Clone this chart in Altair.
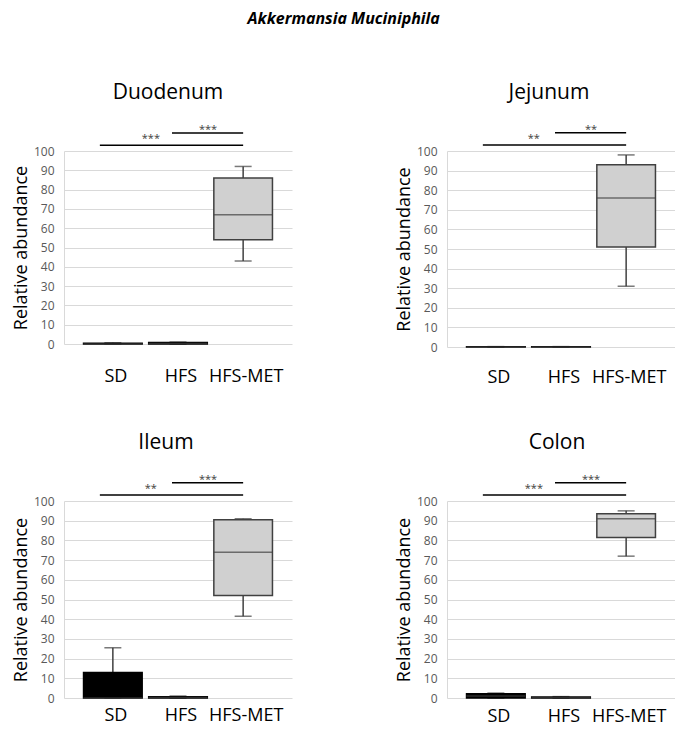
import altair as alt
import pandas as pd

categories = ["SD", "HFS", "HFS-MET"]
regions = ["Duodenum", "Jejunum", "Ileum", "Colon"]

# box statistics per region, in the order of `categories`
whisker_low = {
    "Duodenum": [0.0, 0.0, 43.0],
    "Jejunum": [0.0, 0.0, 31.0],
    "Ileum": [0.0, 0.0, 41.5],
    "Colon": [0.0, 0.0, 72.0],
}
quartile_1 = {
    "Duodenum": [0.0, 0.0, 54.0],
    "Jejunum": [0.0, 0.0, 51.0],
    "Ileum": [0.0, 0.0, 52.0],
    "Colon": [0.0, 0.0, 81.5],
}
median = {
    "Duodenum": [0.0, 0.3, 67.0],
    "Jejunum": [0.0, 0.0, 76.0],
    "Ileum": [0.0, 0.2, 74.0],
    "Colon": [1.0, 0.2, 91.0],
}
quartile_3 = {
    "Duodenum": [0.4, 0.8, 86.0],
    "Jejunum": [0.15, 0.15, 93.0],
    "Ileum": [13.0, 0.6, 90.5],
    "Colon": [2.2, 0.5, 93.5],
}
whisker_high = {
    "Duodenum": [0.6, 1.0, 92.0],
    "Jejunum": [0.2, 0.2, 98.0],
    "Ileum": [25.5, 1.0, 91.0],
    "Colon": [2.5, 0.7, 95.0],
}
# significance labels: SD vs HFS-MET (long bar), HFS vs HFS-MET (short bar)
stars_long = {"Duodenum": "***", "Jejunum": "**", "Ileum": "**", "Colon": "***"}
stars_short = {"Duodenum": "***", "Jejunum": "**", "Ileum": "***", "Colon": "***"}

FONT = "Open Sans"
STROKE = "#404040"
GRID = "#d9d9d9"
LONG_Y = 103
SHORT_Y = 109.3


def panel(region, height, label_pad, title_dx):
    df = pd.DataFrame({
        "category": categories,
        "low": whisker_low[region],
        "q1": quartile_1[region],
        "med": median[region],
        "q3": quartile_3[region],
        "high": whisker_high[region],
    })
    sig = pd.DataFrame({
        "a": ["SD", "HFS"],
        "b": ["HFS-MET", "HFS-MET"],
        "y": [LONG_Y, SHORT_Y],
        "t": [stars_long[region], stars_short[region]],
        "kind": ["long", "short"],
    })
    xscale = alt.Scale(domain=categories, paddingInner=0.1, paddingOuter=0.3)
    xaxis = alt.Axis(title=None, labelAngle=0, labelFontSize=18, labelFont=FONT,
                     labelColor="#000000", labelPadding=label_pad, labelOffset=3,
                     domain=False, ticks=False, grid=False)
    yscale = alt.Scale(domain=[0, 100], nice=False)
    yaxis = alt.Axis(title="Relative abundance", values=list(range(0, 101, 10)),
                     titleFontSize=18, titleFont=FONT, titleFontWeight="normal",
                     titleColor="#000000", titlePadding=3,
                     labelFontSize=12, labelFont=FONT, labelColor="#595959",
                     labelPadding=10, ticks=False, domain=True, domainColor=GRID,
                     grid=True, gridColor=GRID, gridWidth=1)

    def X(field):
        return alt.X(f"{field}:N", scale=xscale, axis=xaxis, sort=categories)

    def Y(field):
        return alt.Y(f"{field}:Q", scale=yscale, axis=yaxis)

    base = alt.Chart(df)
    w_lo = base.mark_rule(color=STROKE, strokeWidth=1.5).encode(x=X("category"), y=Y("low"), y2="q1:Q")
    w_hi = base.mark_rule(color=STROKE, strokeWidth=1.5).encode(x=X("category"), y=Y("q3"), y2="high:Q")
    c_lo = base.mark_tick(color=STROKE, size=17, thickness=1.5).encode(x=X("category"), y=Y("low"))
    c_hi = base.mark_tick(color=STROKE, size=17, thickness=1.5).encode(x=X("category"), y=Y("high"))
    box = base.mark_bar(strokeWidth=1.5).encode(
        x=X("category"), y=Y("q1"), y2="q3:Q",
        fill=alt.Fill("category:N", legend=None,
                      scale=alt.Scale(domain=categories, range=["#000000", "#000000", "#d0d0d0"])),
        stroke=alt.Stroke("category:N", legend=None,
                          scale=alt.Scale(domain=categories, range=["#000000", "#000000", STROKE])),
    )
    med = base.mark_tick(color=STROKE, size=59, thickness=1.5).encode(x=X("category"), y=Y("med"))

    sbase = alt.Chart(sig)
    long_line = sbase.transform_filter("datum.kind == 'long'").mark_rule(
        color="#000000", strokeWidth=1.5, xOffset=-13, clip=False
    ).encode(x=X("a"), x2="b:N", y=Y("y"))
    short_line = sbase.transform_filter("datum.kind == 'short'").mark_rule(
        color="#000000", strokeWidth=1.5, xOffset=-6, clip=False
    ).encode(x=X("a"), x2="b:N", y=Y("y"))
    long_txt = sbase.transform_filter("datum.kind == 'long'").mark_text(
        fontSize=11, font=FONT, fill="#404040", baseline="alphabetic", dy=-3, xOffset=38, clip=False
    ).encode(x=X("a"), y=Y("y"), text="t:N")
    short_txt = sbase.transform_filter("datum.kind == 'short'").mark_text(
        fontSize=11, font=FONT, fill="#404040", baseline="alphabetic", dy=0, xOffset=30, clip=False
    ).encode(x=X("a"), y=Y("y"), text="t:N")

    return alt.layer(w_lo, w_hi, c_lo, c_hi, box, med, long_line, short_line, long_txt, short_txt).properties(
        width=228, height=height,
        title=alt.TitleParams(text=region, fontSize=21, font=FONT, fontWeight="normal",
                              color="#000000", anchor="middle", frame="group", dx=title_dx, offset=21),
    )


top = alt.hconcat(panel("Duodenum", 193, 23, -10), panel("Jejunum", 196, 21, -12), spacing=103)
bottom = alt.hconcat(panel("Ileum", 197, 8, -12), panel("Colon", 197, 9, -4), spacing=103)

chart = alt.vconcat(top, bottom, spacing=45).properties(
    title=alt.TitleParams(text="Akkermansia Muciniphila", fontSize=16, font=FONT,
                          fontWeight="bold", fontStyle="italic", color="#000000",
                          anchor="middle", offset=55),
    padding={"left": 4, "top": 2, "right": 0, "bottom": 0},
).configure_view(stroke=None)

chart.save("out.html", embed_options={"renderer": "svg", "actions": False})
